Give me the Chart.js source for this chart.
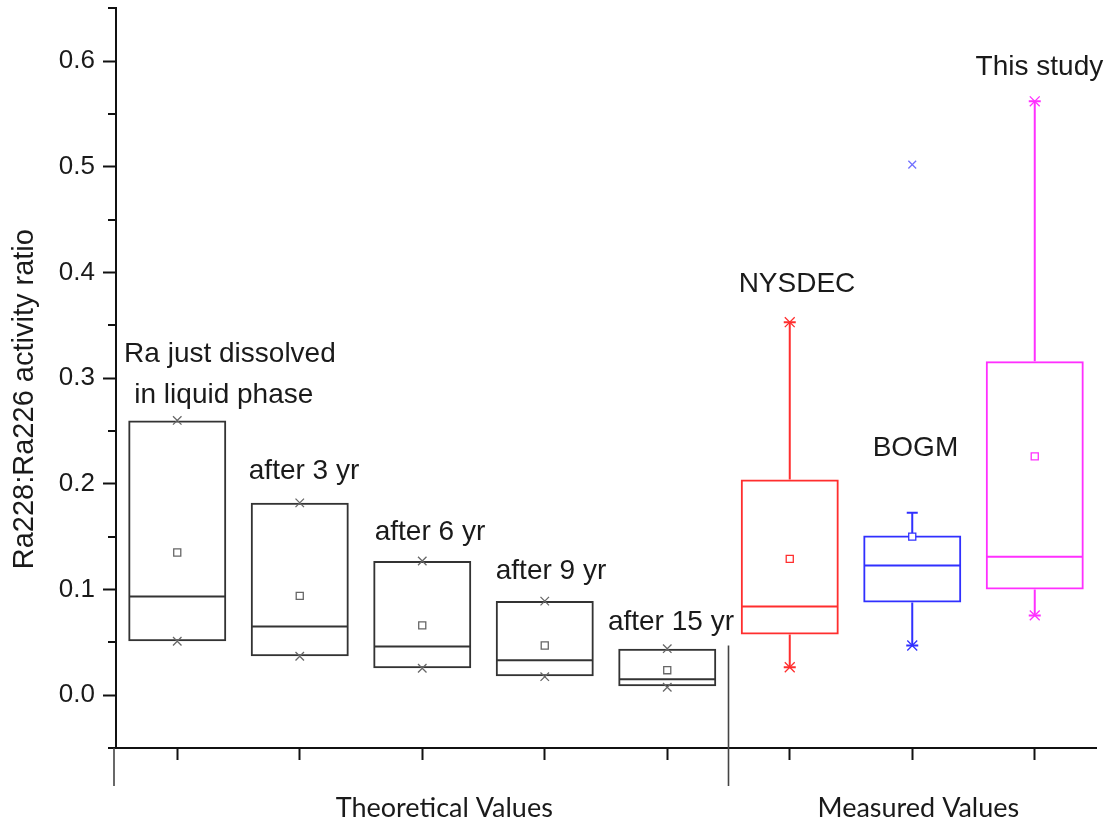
<!DOCTYPE html>
<html>
<head>
<meta charset="utf-8">
<script src="https://cdn.jsdelivr.net/npm/chart.js@4/dist/chart.umd.min.js"></script>
<style>
    html, body { margin: 0; padding: 0; background: #fff; }
    canvas { display: block; }
</style>
</head>
<body>
<canvas id="grafico" width="1109" height="829"></canvas>
<script>
// Ra228:Ra226 activity ratio, theoretical vs measured
const categories = ['Ra just dissolved', 'after 3 yr', 'after 6 yr', 'after 9 yr', 'after 15 yr', 'NYSDEC', 'BOGM', 'This study'];
const q1 = [0.051, 0.0368, 0.0255, 0.018, 0.0085, 0.0575, 0.0877, 0.100];
const q3 = [0.260, 0.182, 0.127, 0.089, 0.044, 0.204, 0.151, 0.316];
const median = [0.0934, 0.065, 0.046, 0.033, 0.015, 0.084, 0.1226, 0.131];
const mean = [0.135, 0.094, 0.066, 0.047, 0.0236, 0.129, 0.150, 0.226];
const p99 = [0.260, 0.182, 0.127, 0.089, 0.044, 0.353, null, 0.562];
const p1 = [0.051, 0.0368, 0.0255, 0.0175, 0.0075, 0.0264, 0.047, 0.0755];
const whiskerHigh = [null, null, null, null, null, 0.353, 0.1726, 0.562];
const whiskerLow = [null, null, null, null, null, 0.0264, 0.047, 0.0755];
const outliers = [null, null, null, null, null, null, 0.502, null];

const yTicks = [0.0, 0.1, 0.2, 0.3, 0.4, 0.5, 0.6];
const yMinor = [-0.05, 0.05, 0.15, 0.25, 0.35, 0.45, 0.55, 0.65];

// text next to each box: [category position, y value]
const notes = [
    { text: 'Ra just dissolved', at: [0.43, 0.3226] },
    { text: 'in liquid phase', at: [0.38, 0.284] },
    { text: 'after 3 yr', at: [1.035, 0.2123] },
    { text: 'after 6 yr', at: [2.063, 0.1538] },
    { text: 'after 9 yr', at: [3.051, 0.117] },
    { text: 'after 15 yr', at: [4.03, 0.0689] },
    { text: 'NYSDEC', at: [5.059, 0.3887] },
    { text: 'BOGM', at: [6.026, 0.2335] },
    { text: 'This study', at: [7.038, 0.594] }
];
const groups = [
    { text: 'Theoretical Values', at: 2.18 },
    { text: 'Measured Values', at: 6.05 }
];
const groupSplit = 4.5;

const boxColors = ['#333', '#333', '#333', '#333', '#333', '#ff2e2e', '#3030ff', '#ff30ff'];
const markColors = ['#666', '#666', '#666', '#666', '#666', '#ff2e2e', '#3030ff', '#ff30ff'];
const markSizes = [6, 6, 6, 6, 6, 7, 7, 7];

const fontSans = '"Liberation Sans", Arial, sans-serif';

function pointSet(data, style, opts) {
    return Object.assign({
        type: 'line',
        data: data,
        showLine: false,
        order: 0,
        pointStyle: style,
        pointRadius: markSizes,
        pointBorderColor: markColors,
        pointBackgroundColor: '#fff',
        pointBorderWidth: 1.3
    }, opts || {});
}

const boxExtras = {
    id: 'boxExtras',
    beforeDatasetsDraw(chart) {
        const { ctx, scales: { y } } = chart;
        const bars = chart.getDatasetMeta(0).data;
        ctx.save();
        ctx.lineWidth = 2;
        bars.forEach((bar, i) => {
            if (whiskerHigh[i] == null) return;
            ctx.strokeStyle = boxColors[i];
            ctx.beginPath();
            ctx.moveTo(bar.x, y.getPixelForValue(q3[i]));
            ctx.lineTo(bar.x, y.getPixelForValue(whiskerHigh[i]));
            ctx.moveTo(bar.x, y.getPixelForValue(q1[i]));
            ctx.lineTo(bar.x, y.getPixelForValue(whiskerLow[i]));
            ctx.stroke();
        });
        ctx.restore();
    },
    afterDatasetsDraw(chart) {
        const { ctx, chartArea, scales: { x, y } } = chart;
        const bars = chart.getDatasetMeta(0).data;
        ctx.save();

        // medians
        ctx.lineWidth = 2;
        bars.forEach((bar, i) => {
            const py = y.getPixelForValue(median[i]);
            ctx.strokeStyle = boxColors[i];
            ctx.beginPath();
            ctx.moveTo(bar.x - bar.width / 2 + 1, py);
            ctx.lineTo(bar.x + bar.width / 2 - 1, py);
            ctx.stroke();
        });

        // minor ticks on the y axis
        ctx.strokeStyle = '#111';
        ctx.beginPath();
        yMinor.forEach(v => {
            const py = Math.round(y.getPixelForValue(v));
            ctx.moveTo(chartArea.left - 8, py);
            ctx.lineTo(chartArea.left, py);
        });
        ctx.stroke();

        // group separators below the axis
        ctx.lineWidth = 1.6;
        ctx.strokeStyle = '#444';
        const sx = x.getPixelForValue(groupSplit);
        ctx.beginPath();
        ctx.moveTo(sx, y.getPixelForValue(0.047));
        ctx.lineTo(sx, chartArea.bottom + 38);
        ctx.moveTo(chartArea.left - 2, chartArea.bottom);
        ctx.lineTo(chartArea.left - 2, chartArea.bottom + 38);
        ctx.stroke();

        // box labels
        ctx.fillStyle = '#1a1a1a';
        ctx.textAlign = 'center';
        ctx.textBaseline = 'middle';
        ctx.font = '28px ' + fontSans;
        notes.forEach(n => {
            ctx.fillText(n.text, x.getPixelForValue(n.at[0]), y.getPixelForValue(n.at[1]));
        });

        // group labels
        ctx.font = '27px Lato, "Open Sans", sans-serif';
        groups.forEach(g => {
            ctx.fillText(g.text, x.getPixelForValue(g.at), chartArea.bottom + 60);
        });

        // y axis title
        ctx.font = '29px ' + fontSans;
        ctx.translate(25, (chartArea.top + chartArea.bottom) / 2 + 21);
        ctx.rotate(-Math.PI / 2);
        ctx.fillText('Ra228:Ra226 activity ratio', 0, 0);

        ctx.restore();
    }
};

function isMajor(v) {
    return yTicks.some(t => Math.abs(t - v) < 1e-6);
}

function noPadding(scale) {
    scale.paddingTop = 0;
    scale.paddingBottom = 0;
    scale.paddingLeft = 0;
    scale.paddingRight = 0;
}

const ctx = document.getElementById('grafico').getContext('2d');
new Chart(ctx, {
    type: 'bar',
    data: {
        labels: categories,
        datasets: [
            {
                label: 'box',
                data: categories.map((c, i) => [q1[i], q3[i]]),
                order: 5,
                backgroundColor: 'rgba(0,0,0,0)',
                borderColor: boxColors,
                borderWidth: 2,
                borderSkipped: false,
                categoryPercentage: 0.8,
                barPercentage: 1
            },
            pointSet(mean, 'rect', { pointRadius: 5 }),
            pointSet(p99, 'crossRot'),
            pointSet(p1, 'crossRot'),
            pointSet(whiskerHigh, 'line', { pointRadius: [6, 6, 6, 6, 6, 6, 5.5, 6], pointBorderWidth: 2 }),
            pointSet(whiskerLow, 'line', { pointRadius: 6, pointBorderWidth: 2 }),
            pointSet(outliers, 'crossRot', { pointRadius: 5.5, pointBorderColor: '#7272ff' })
        ]
    },
    options: {
        responsive: false,
        animation: false,
        devicePixelRatio: 1,
        layout: { padding: { top: 7, right: 13, left: 0, bottom: 0 } },
        plugins: {
            legend: { display: false },
            tooltip: { enabled: false }
        },
        scales: {
            x: {
                type: 'category',
                offset: true,
                grid: {
                    offset: false,
                    drawOnChartArea: false,
                    tickLength: 12,
                    tickColor: '#111',
                    tickWidth: 2
                },
                border: { color: '#111', width: 2 },
                ticks: { display: false },
                afterFit(scale) { scale.height = 81; noPadding(scale); }
            },
            y: {
                min: -0.05,
                max: 0.65,
                grid: {
                    drawOnChartArea: false,
                    tickLength: 13,
                    tickColor: '#111',
                    tickWidth: 2
                },
                border: { color: '#111', width: 2 },
                ticks: {
                    stepSize: 0.05,
                    padding: 8,
                    color: '#1a1a1a',
                    font: { family: fontSans, size: 26 },
                    callback: v => isMajor(v) ? v.toFixed(1) : null
                },
                afterFit(scale) { scale.width = 116; noPadding(scale); }
            }
        }
    },
    plugins: [boxExtras]
});
</script>
</body>
</html>
